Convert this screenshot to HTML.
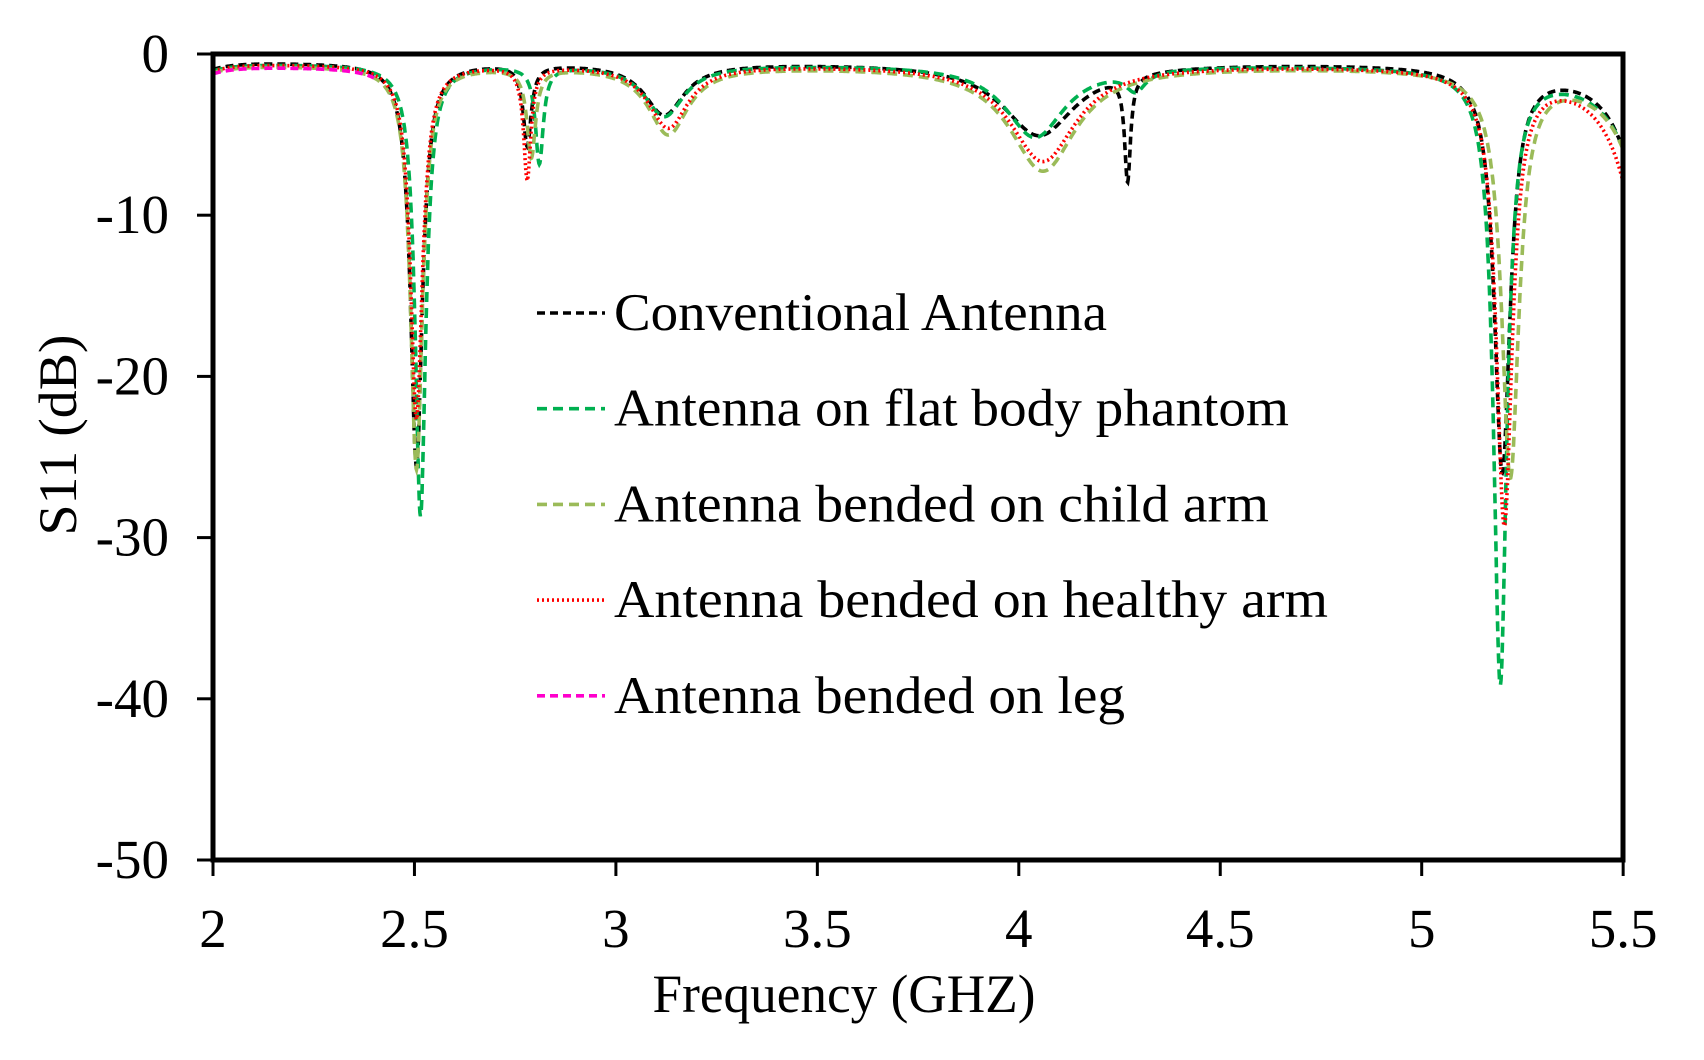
<!DOCTYPE html>
<html><head><meta charset="utf-8"><style>
body{margin:0;background:#fff}
svg{display:block}
text{font-family:"Liberation Serif",serif;fill:#000}
</style></head><body>
<svg id="s" width="1704" height="1060" xmlns="http://www.w3.org/2000/svg">
<g id="curves" fill="none" stroke-width="3.6"></g>
<rect x="213" y="54" width="1410" height="806" fill="none" stroke="#000" stroke-width="5"/>
<g stroke="#000" stroke-width="3" id="ticks"></g>
<g font-size="55" text-anchor="end" id="yl"></g>
<g font-size="55" text-anchor="middle" id="xl"></g>
<text x="844" y="1012" font-size="54" text-anchor="middle" textLength="383" lengthAdjust="spacingAndGlyphs">Frequency (GHZ)</text>
<text transform="translate(76,435) rotate(-90)" font-size="54" text-anchor="middle" textLength="201" lengthAdjust="spacingAndGlyphs">S11 (dB)</text>
<g font-size="53" id="leg"></g>
</svg>
<script>
const X=f=>213+402.9*(f-2), Y=d=>54+16.12*(-d);
const ns="http://www.w3.org/2000/svg";
function el(p,t,a,txt){const e=document.createElementNS(ns,t);for(const k in a)e.setAttribute(k,a[k]);if(txt!=null)e.textContent=txt;document.getElementById(p).appendChild(e);return e;}
for(let i=0;i<=5;i++){const y=Y(-10*i);el('ticks','line',{x1:197,x2:213,y1:y,y2:y});el('yl','text',{x:169,y:y+18},i?('-'+i*10):'0');}
for(let i=0;i<=7;i++){const f=2+0.5*i,x=X(f);el('ticks','line',{x1:x,x2:x,y1:860,y2:876});el('xl','text',{x:x,y:947},String(f));}
const series=[
 {c:'#000',d:'8,5',b:-0.5,dips:[[2.505,25,0.018],[2.78,5,0.012],[3.12,3.2,0.06],[4.05,4.5,0.11],[4.27,6.5,0.009],[5.2,25,0.024],[5.6,20,0.06]]},
 {c:'#00b050',d:'10,6',b:-0.6,dips:[[2.515,28,0.016],[2.81,6,0.012],[3.12,3.2,0.06],[4.04,4.5,0.09],[4.29,1.2,0.03],[5.195,38,0.02],[5.62,20,0.07]]},
 {c:'#9bbb59',d:'10,6',b:-0.7,dips:[[2.505,25,0.018],[2.79,5.5,0.013],[3.13,4.2,0.06],[4.06,6.5,0.1],[5.22,25,0.026],[5.62,22,0.065]]},
 {c:'#ff0000',d:'2,3',b:-0.6,dips:[[2.505,22,0.018],[2.78,7,0.011],[3.13,3.9,0.06],[4.06,6,0.1],[5.205,28,0.024],[5.6,24,0.065]]},
 {c:'#ff00cc',d:'8,5',b:-0.8,dips:[[2.505,24,0.018]],end:2.4}
];
series.forEach(s=>{let p='';const end=s.end||5.5;for(let f=2;f<=end+1e-9;f+=0.0012){let v=s.b-0.4*Math.exp(-(f-2)/0.05);for(const[a,A,w]of s.dips)v-=A/(1+((f-a)/w)**2);p+=(p?'L':'M')+X(f).toFixed(1)+','+Y(v).toFixed(1);}
 el('curves','path',{d:p,stroke:s.c,'stroke-dasharray':s.d});});
const L=[['#000','8,5','Conventional Antenna',493],['#00b050','10,6','Antenna on flat body phantom',675],['#9bbb59','10,6','Antenna bended on child arm',655],['#ff0000','2,3','Antenna bended on healthy arm',714],['#ff00cc','8,5','Antenna bended on leg',511]];
L.forEach((l,i)=>{const y=313+95.7*i;el('leg','line',{x1:537,x2:605,y1:y,y2:y,stroke:l[0],'stroke-width':3.6,'stroke-dasharray':l[1]});el('leg','text',{x:614,y:y+17,textLength:l[3],lengthAdjust:'spacingAndGlyphs'},l[2]);});
</script>
</body></html>
